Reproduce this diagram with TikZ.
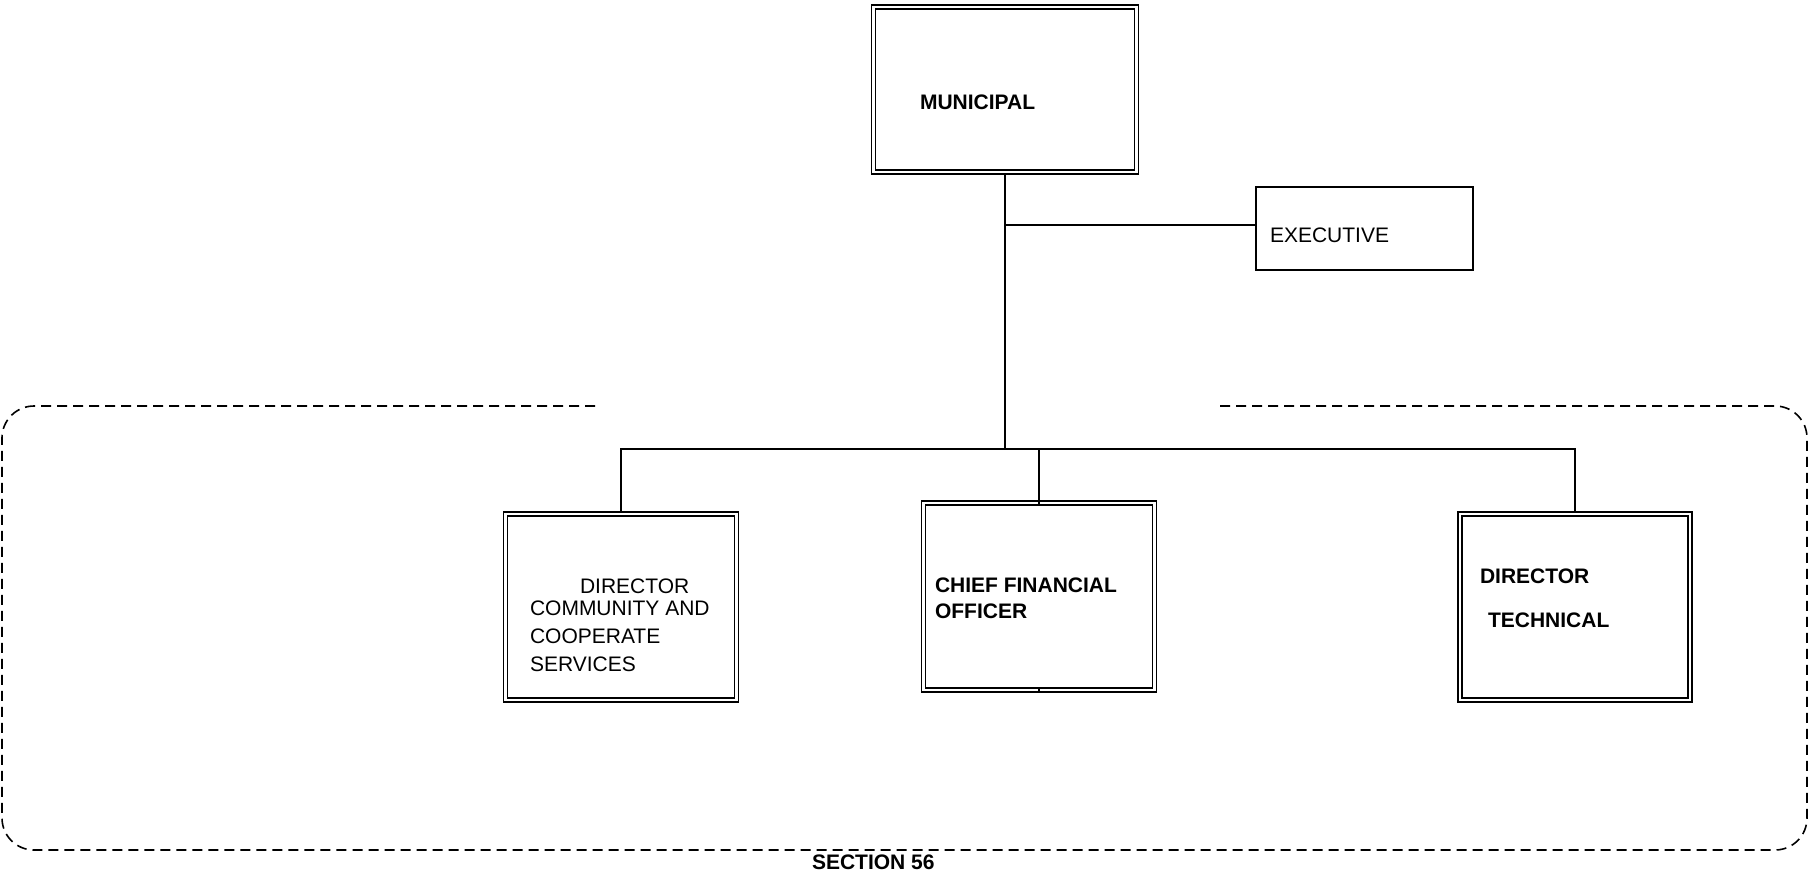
\documentclass[tikz,border=0pt]{standalone}
\usepackage{fontspec}
\setmainfont{Liberation Sans}
\begin{document}
\begin{tikzpicture}[x=1pt,y=-1pt,
  every node/.style={inner sep=0pt,outer sep=0pt},
  lbl/.style={anchor=base west,font=\fontsize{21}{25}\selectfont},
  blbl/.style={anchor=base west,font=\fontsize{21}{25}\selectfont\bfseries},
  dbox/.style={draw,line width=1.8pt,
    path picture={\draw[line width=1.3pt,fill=white]
      ([shift={(4pt,4pt)}]path picture bounding box.south west) rectangle
      ([shift={(-4pt,-4pt)}]path picture bounding box.north east);}},
  sbox/.style={draw,line width=1.4pt},
  link/.style={line width=1.5pt},
  trunk/.style={line width=2pt},
  frame/.style={line width=1.6pt,dash pattern=on 10pt off 6pt,rounded corners=32pt}]
\useasboundingbox (0,0) rectangle (1809,873);

% junction points
\coordinate (hub) at (1005,449);
\coordinate (tapE) at (1005,225);
\coordinate (execIn) at (1256,225);

% connectors (drawn first so the box interiors cover them)
\draw[link] (hub) -| (621,512) coordinate (dccTop);
\draw[link] (hub) -| (1575,512) coordinate (dtTop);
\draw[link] (hub) -| (1039,692) coordinate (cfoBot);
\draw[link] (tapE) -- (execIn);

% boxes
\node[dbox,minimum width=267pt,minimum height=169pt] (mun) at (1005,89.5) {};
\node[sbox,minimum width=217pt,minimum height=83pt] (exec) at (1364.5,228.5) {};
\node[dbox,minimum width=235pt,minimum height=190pt] (dcc) at (621,607) {};
\node[dbox,minimum width=235pt,minimum height=191pt] (cfo) at (1039,596.5) {};
\node[dbox,minimum width=234pt,minimum height=190pt] (dt) at (1575,607) {};

\draw[trunk] (mun.south) -- (hub);

% section boundary
\draw[frame] (595,406) -- (2,406) -- (2,850) -- (1807,850) -- (1807,406) -- (1218,406);

% texts
\node[blbl] (tmun) at (920,109) {MUNICIPAL};
\node[lbl] (texec) at (1270,242) {EXECUTIVE};
\node[lbl] (tdcc1) at (580,593) {DIRECTOR};
\node[lbl] (tdcc2) at (530,615) {COMMUNITY AND};
\node[lbl] (tdcc3) at (530,643) {COOPERATE};
\node[lbl] (tdcc4) at (530,671) {SERVICES};
\node[blbl] (tcfo1) at (935,592) {CHIEF FINANCIAL};
\node[blbl] (tcfo2) at (935,618) {OFFICER};
\node[blbl] (tdt1) at (1480,583) {DIRECTOR};
\node[blbl] (tdt2) at (1488,627) {TECHNICAL};
\node[blbl] (tsec) at (812,869) {SECTION 56};
\end{tikzpicture}
\end{document}
